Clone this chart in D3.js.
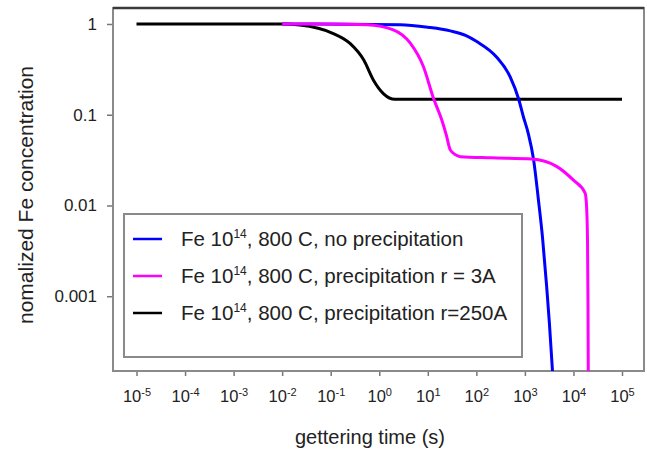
<!DOCTYPE html>
<html><head><meta charset="utf-8">
<script src="https://cdn.jsdelivr.net/npm/d3@7"></script>
<style>
body{margin:0;background:#fff}
svg{display:block}
text{font-family:"Liberation Sans",Arial,sans-serif;fill:#222}
</style>
</head><body>
<svg id="chart" width="647" height="450"></svg>
<script>
// ---- data ----
const blueTime = [1e-2, 2.7, 10, 29, 60, 102, 263, 500, 740, 930, 1175, 1510, 1900, 2300, 2800, 3200, 3700];
const blueConc = [1, 0.98, 0.92, 0.84, 0.75, 0.64, 0.43, 0.26, 0.15, 0.095, 0.062, 0.032, 0.0115, 0.0045, 0.0013, 0.0005, 0.00015];

const magentaTime = [1e-2, 0.1, 0.56, 1.95, 4.4, 8.1, 13.2, 19.5, 24, 29, 38, 47, 200, 1380, 4470, 10000, 17400, 18600, 19500, 19950, 20200];
const magentaConc = [1, 1, 0.98, 0.86, 0.61, 0.34, 0.15, 0.087, 0.06, 0.041, 0.036, 0.0345, 0.0335, 0.0325, 0.027, 0.019, 0.0137, 0.01, 0.004, 0.0008, 0.00014];

const blackTime = [1e-5, 0.01, 0.023, 0.11, 0.25, 0.48, 0.76, 1.23, 2.1, 1e5];
const blackConc = [1, 1, 0.975, 0.79, 0.61, 0.40, 0.24, 0.17, 0.148, 0.148];

const yTickValues = [1, 0.1, 0.01, 0.001];
const yTickLabels = ["1", "0.1", "0.01", "0.001"];
const xTickExponents = [-5, -4, -3, -2, -1, 0, 1, 2, 3, 4, 5];

const seriesNames = [
  ["Fe 10", "14", ", 800 C, no precipitation"],
  ["Fe 10", "14", ", 800 C, precipitation r = 3A"],
  ["Fe 10", "14", ", 800 C, precipitation r=250A"]
];
const seriesColors = ["#0000ff", "#ff00ff", "#000000"];
const xTitle = "gettering time (s)";
const yTitle = "nomalized Fe concentration";

// ---- layout ----
const svg = d3.select("#chart");
const L = 113, R = 644, T = 8, B = 371;

const x = d3.scaleLog().domain([1e-5, 1e5]).range([136.5, 622]);
const y = d3.scaleLog().domain([1.5e-4, 1.5]).range([B, T]);

svg.append("defs").append("clipPath").attr("id", "clip")
  .append("rect").attr("x", L).attr("y", T).attr("width", R - L).attr("height", B - T);

// y axis
const yAxis = svg.append("g").attr("transform", `translate(${L},0)`)
  .call(d3.axisLeft(y).tickValues(yTickValues).tickFormat((d, i) => yTickLabels[i]).tickSize(6).tickPadding(10));
yAxis.select(".domain").remove();
yAxis.selectAll("line").attr("stroke", "#777").attr("stroke-width", 1.5);
yAxis.selectAll("text").attr("font-size", 17).attr("fill", "#222").attr("font-family", "Liberation Sans, Arial, sans-serif");

// x axis
const xAxis = svg.append("g").attr("transform", `translate(0,${B})`)
  .call(d3.axisBottom(x).tickValues(xTickExponents.map(e => Math.pow(10, e))).tickFormat("").tickSize(5));
xAxis.select(".domain").remove();
xAxis.selectAll("line").attr("stroke", "#777").attr("stroke-width", 1.5);
xAxis.selectAll(".tick").each(function(d, i) {
  const t = d3.select(this).append("text")
    .attr("y", 31).attr("text-anchor", "middle").attr("font-size", 16.5).attr("fill", "#222")
    .attr("font-family", "Liberation Sans, Arial, sans-serif");
  t.append("tspan").text("10");
  t.append("tspan").attr("dy", -6).attr("font-size", 11).text(xTickExponents[i]);
});

// frame
svg.append("rect").attr("x", L).attr("y", T).attr("width", R - L).attr("height", B - T)
  .attr("fill", "none").attr("stroke", "#8a8a8a").attr("stroke-width", 2);
svg.append("line").attr("x1", L).attr("x2", R).attr("y1", T).attr("y2", T)
  .attr("stroke", "#3a3a3a").attr("stroke-width", 2.5);

// curves
const line = d3.line().x(d => x(d[0])).y(d => y(d[1])).curve(d3.curveMonotoneX);
const series = [
  {t: blackTime, c: blackConc, color: seriesColors[2]},
  {t: blueTime, c: blueConc, color: seriesColors[0]},
  {t: magentaTime, c: magentaConc, color: seriesColors[1]}
];
const plot = svg.append("g").attr("clip-path", "url(#clip)");
series.forEach(s => {
  plot.append("path").datum(s.t.map((t, i) => [t, s.c[i]]))
    .attr("d", line).attr("fill", "none").attr("stroke", s.color)
    .attr("stroke-width", 3).attr("stroke-linejoin", "round");
});

// legend
const lg = svg.append("g");
lg.append("rect").attr("x", 124).attr("y", 214).attr("width", 398).attr("height", 143)
  .attr("fill", "#fff").attr("stroke", "#8a8a8a").attr("stroke-width", 2);
const rowY = [239, 276, 313];
seriesNames.forEach((nm, i) => {
  lg.append("line").attr("x1", 133).attr("x2", 162).attr("y1", rowY[i]).attr("y2", rowY[i])
    .attr("stroke", seriesColors[i]).attr("stroke-width", 2.5);
  const t = lg.append("text").attr("x", 181).attr("y", rowY[i] + 7).attr("font-size", 20.5);
  t.append("tspan").text(nm[0]);
  t.append("tspan").attr("dy", -8).attr("font-size", 12).text(nm[1]);
  t.append("tspan").attr("dy", 8).text(nm[2]);
});

// titles
svg.append("text").attr("x", 370).attr("y", 444).attr("text-anchor", "middle")
  .attr("font-size", 20).text(xTitle);
svg.append("text").attr("transform", "translate(33,195) rotate(-90)").attr("text-anchor", "middle")
  .attr("font-size", 21).text(yTitle);
</script>
</body></html>
